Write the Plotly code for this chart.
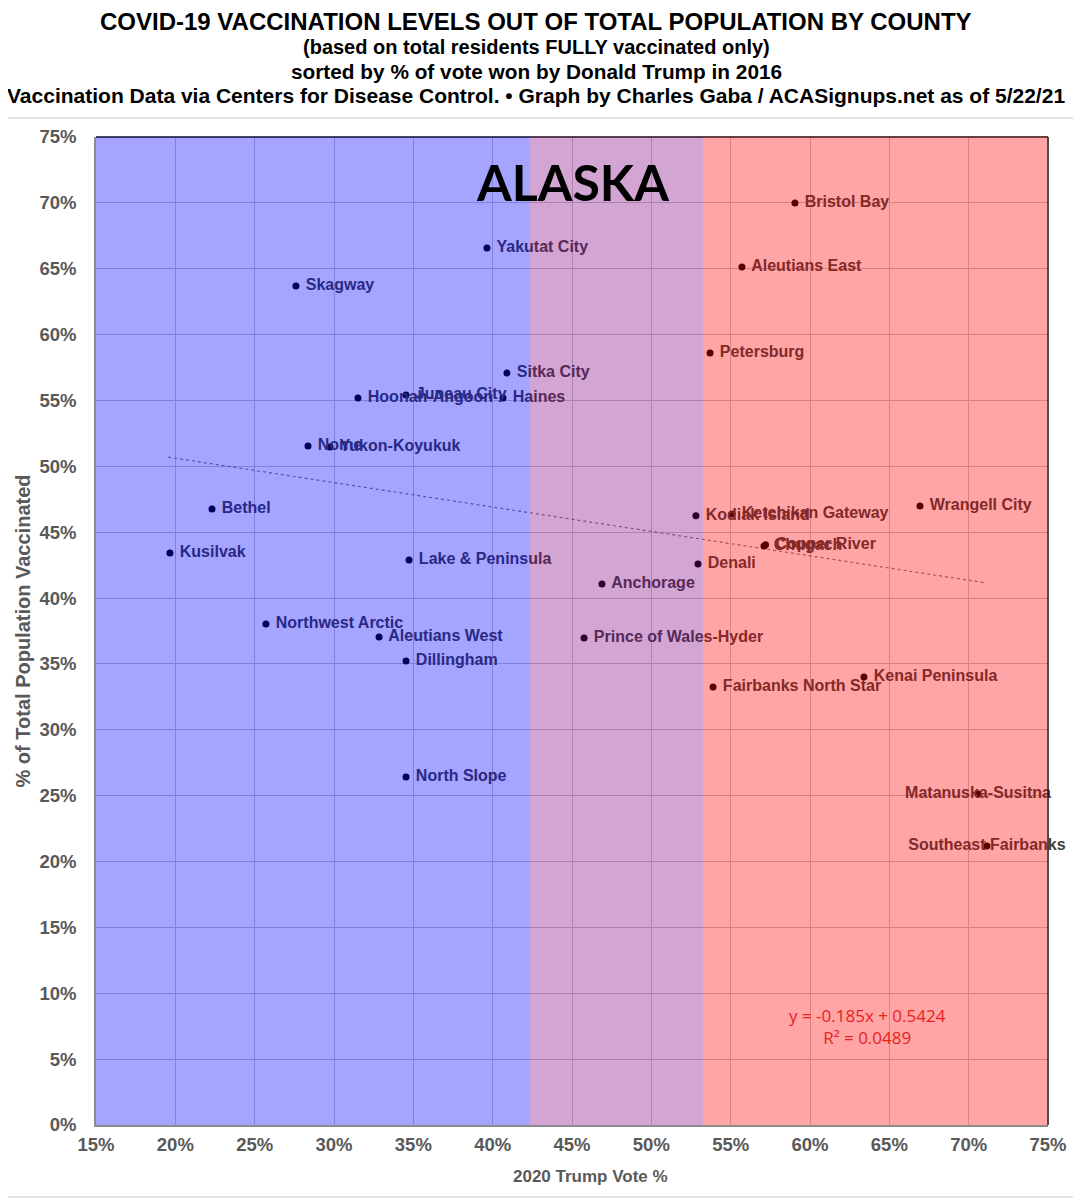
import plotly.graph_objects as go

# county data: 2020 Trump vote % vs % fully vaccinated
counties = [
    'Bristol Bay', 'Yakutat City', 'Aleutians East', 'Skagway', 'Petersburg',
    'Sitka City', 'Juneau City', 'Hoonah-Angoon', 'Haines', 'Nome',
    'Yukon-Koyukuk', 'Bethel', 'Wrangell City', 'Kodiak Island',
    'Ketchikan Gateway', 'Chugach', 'Copper River', 'Kusilvak',
    'Lake & Peninsula', 'Denali', 'Anchorage', 'Northwest Arctic',
    'Aleutians West', 'Prince of Wales-Hyder', 'Dillingham', 'Kenai Peninsula',
    'Fairbanks North Star', 'North Slope', 'Matanuska-Susitna',
    'Southeast Fairbanks',
]
trump_vote = [
    59.05, 39.64, 55.71, 27.60, 53.70,
    40.90, 34.54, 31.51, 40.65, 28.36,
    29.75, 22.31, 66.93, 52.81,
    55.08, 57.10, 57.20, 19.66,
    34.73, 52.94, 46.89, 25.71,
    32.84, 45.76, 34.54, 63.40,
    53.89, 34.54, 70.59,
    71.15,
]
vaccinated = [
    69.99, 66.57, 65.13, 63.69, 58.60,
    57.08, 55.41, 55.19, 55.19, 51.54,
    51.47, 46.76, 46.99, 46.25,
    46.38, 43.95, 44.05, 43.42,
    42.89, 42.59, 41.07, 38.03,
    37.04, 36.97, 35.22, 34.01,
    33.25, 26.42, 25.13,
    21.18,
]
# the two far-right labels are centred on their dots in the original
centred = ['Matanuska-Susitna', 'Southeast Fairbanks']

# linear trendline end points (Excel trendline)
trend_x = [19.55, 71.15]
trend_y = [50.70, 41.14]
trend_eq = 'y = -0.185x + 0.5424'
trend_r2 = 'R² = 0.0489'

# coloured vote bands
band_edges = [15, 42.35, 53.25, 75]
band_colors = ['rgba(0,0,255,0.353)', 'rgba(128,0,130,0.353)', 'rgba(255,0,0,0.353)']

x_ticks = list(range(15, 80, 5))
y_ticks = list(range(0, 80, 5))

title_lines = [
    'COVID-19 VACCINATION LEVELS OUT OF TOTAL POPULATION BY COUNTY',
    '(based on total residents FULLY vaccinated only)',
    'sorted by % of vote won by Donald Trump in 2016',
    'Vaccination Data via Centers for Disease Control. • Graph by Charles Gaba / ACASignups.net as of 5/22/21',
]

SANS = 'Liberation Sans, Arial, sans-serif'
GRAY = '#595959'

fig = go.Figure()

fig.add_trace(go.Scatter(
    x=trend_x, y=trend_y, mode='lines',
    line=dict(color='#7F7F7F', width=1.2, dash='dot'),
    hoverinfo='skip', showlegend=False,
))

positions = ['middle center' if c in centred else 'middle right' for c in counties]
fig.add_trace(go.Scatter(
    x=trump_vote, y=vaccinated, mode='markers+text',
    text=[' ' + c if c not in centred else c for c in counties],
    textposition=positions,
    textfont=dict(family=SANS, size=16, color='#404040', weight='bold'),
    marker=dict(color='black', size=7),
    cliponaxis=False,
    showlegend=False,
))

shapes = []
# outer chart border
shapes.append(dict(type='rect', xref='paper', yref='paper',
                   x0=-0.0977, x1=1.0315, y0=-0.0729, y1=1.0192,
                   line=dict(color='#D9D9D9', width=1.5), layer='below'))
# top and right plot-area border
shapes.append(dict(type='line', xref='paper', yref='paper', x0=0, x1=1, y0=1, y1=1,
                   line=dict(color='#111111', width=1.5), layer='above'))
shapes.append(dict(type='line', xref='paper', yref='paper', x0=1, x1=1, y0=0, y1=1,
                   line=dict(color='#111111', width=1.5), layer='above'))
# translucent bands laid over everything, as in the original
for i, col in enumerate(band_colors):
    shapes.append(dict(type='rect', xref='x', yref='paper',
                       x0=band_edges[i], x1=band_edges[i + 1], y0=0, y1=1,
                       fillcolor=col, line=dict(width=0), layer='above'))

annotations = []
title_y = [1.1164, 1.0911, 1.0658, 1.0415]
title_size = [24, 20, 20.8, 21]
for txt, yy, sz in zip(title_lines, title_y, title_size):
    annotations.append(dict(text=txt, xref='paper', yref='paper', x=0.4622, y=yy,
                            xanchor='center', yanchor='middle', showarrow=False,
                            font=dict(family=SANS, size=sz, color='black', weight='bold')))

annotations.append(dict(text='ALASKA', xref='x', yref='y', x=45.0, y=71.6,
                        xanchor='center', yanchor='middle', showarrow=False,
                        font=dict(family='Lato, sans-serif', size=50, color='black', weight='bold')))
annotations.append(dict(text=trend_eq + '<br>' + trend_r2, xref='x', yref='y', x=63.6, y=7.5,
                        xanchor='center', yanchor='middle', showarrow=False,
                        font=dict(family='Open Sans, sans-serif', size=17, color='#E8221C')))
# x axis title sits a little right of centre in the original
annotations.append(dict(text='2020 Trump Vote %', xref='paper', yref='paper', x=0.519, y=-0.0526,
                        xanchor='center', yanchor='middle', showarrow=False,
                        font=dict(family=SANS, size=17, color=GRAY, weight='bold')))

fig.update_layout(
    width=1081, height=1200,
    margin=dict(l=88, r=41, t=129, b=83),
    paper_bgcolor='white', plot_bgcolor='white',
    shapes=shapes, annotations=annotations,
)

fig.update_xaxes(
    range=[15, 75], tickmode='array', tickvals=x_ticks,
    ticktext=[f'{v}%' for v in x_ticks],
    showgrid=True, gridcolor='#C8C8C8', gridwidth=1,
    showline=True, linecolor='#8C8C8C', linewidth=1.5,
    zeroline=False, ticks='', ticklabelstandoff=2,
    tickfont=dict(family=SANS, size=18.5, color=GRAY, weight='bold'),
)
fig.update_yaxes(
    range=[0, 75], tickmode='array', tickvals=y_ticks,
    ticktext=[f'{v}%' for v in y_ticks],
    showgrid=True, gridcolor='#C8C8C8', gridwidth=1,
    showline=True, linecolor='#8C8C8C', linewidth=1.5,
    zeroline=False, ticks='', ticklabelstandoff=14,
    tickfont=dict(family=SANS, size=18.5, color=GRAY, weight='bold'),
    title=dict(text='% of Total Population Vaccinated', standoff=4,
               font=dict(family=SANS, size=20, color=GRAY, weight='bold')),
)

fig.write_html('out.html')
